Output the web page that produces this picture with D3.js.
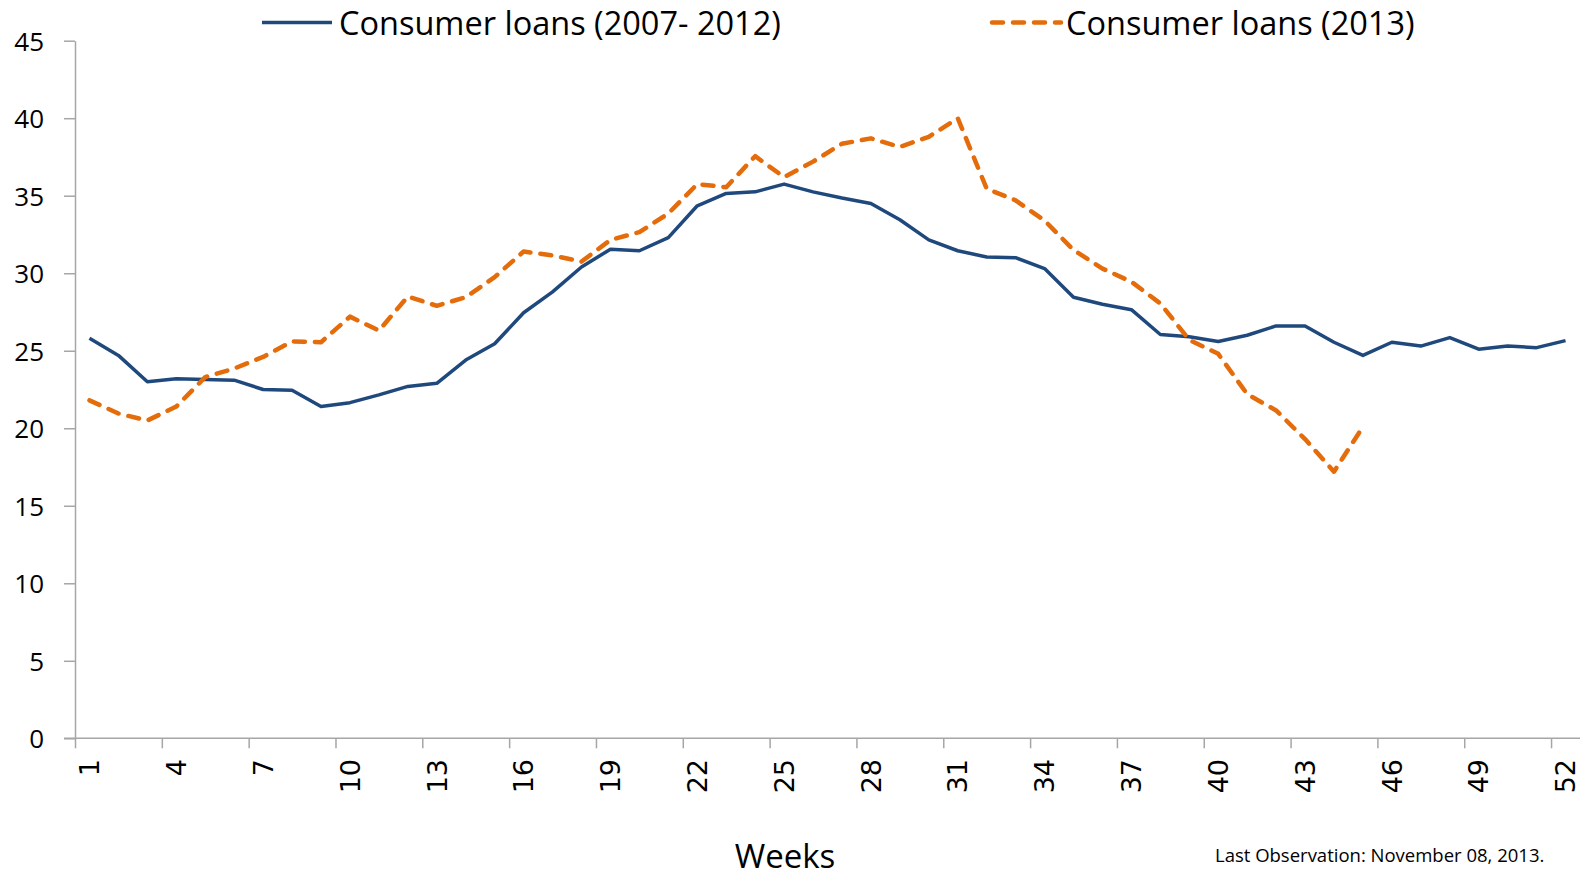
<!DOCTYPE html>
<html>
<head>
<meta charset="utf-8">
<script src="https://cdn.jsdelivr.net/npm/d3@7"></script>
<style>
  html, body { margin: 0; padding: 0; background: #ffffff; }
  svg { display: block; }
</style>
</head>
<body>
<svg id="chart" width="1595" height="878"></svg>
<script>
// Weekly consumer loans: average pattern 2007-2012 vs. 2013
const weeks = d3.range(1, 53);
const labelWeeks = d3.range(1, 53, 3);
const yTicks = d3.range(0, 46, 5);

const avg2007_2012 = [
  25.8, 24.7, 23.0, 23.2, 23.15, 23.1, 22.5, 22.45, 21.4, 21.65,
  22.15, 22.7, 22.9, 24.4, 25.45, 27.45, 28.8, 30.4, 31.55, 31.45,
  32.3, 34.35, 35.15, 35.25, 35.75, 35.25, 34.85, 34.5, 33.45, 32.15,
  31.45, 31.05, 31.0, 30.3, 28.45, 28.0, 27.65, 26.05, 25.9, 25.6,
  26.0, 26.6, 26.6, 25.55, 24.7, 25.55, 25.3, 25.85, 25.1, 25.3,
  25.2, 25.65
];

const loans2013 = [
  21.8, 20.95, 20.5, 21.4, 23.3, 23.85, 24.6, 25.6, 25.55, 27.2,
  26.3, 28.5, 27.9, 28.45, 29.75, 31.4, 31.15, 30.75, 32.15, 32.65,
  33.85, 35.75, 35.55, 37.55, 36.2, 37.2, 38.35, 38.7, 38.15, 38.8,
  40.0, 35.45, 34.7, 33.4, 31.5, 30.3, 29.45, 28.05, 25.7, 24.8,
  22.2, 21.15, 19.3, 17.2, 20.1
];

const seriesNames = ["Consumer loans (2007- 2012)", "Consumer loans (2013)"];
const footnote = "Last Observation: November 08, 2013.";
const xTitle = "Weeks";

const BLUE = "#1F497D";
const ORANGE = "#E46C0A";
const AXIS = "#a6a6a6";
const TEXT_FONT = "'Open Sans', sans-serif";
const TICK_FONT = "'DejaVu Sans', sans-serif";

const svg = d3.select("#chart");
const plot = { left: 75, right: 1580, top: 40.7, bottom: 738.3 };

// category bands for weeks; boundaries on a continuous scale
const xBand = d3.scaleBand().domain(weeks).range([plot.left, plot.right]).padding(0);
const xEdge = d3.scaleLinear().domain([0, 52]).range([plot.left, plot.right]);
const y = d3.scaleLinear().domain([0, 45]).range([plot.bottom, plot.top]);
const xc = w => xBand(w) + xBand.bandwidth() / 2;

// y axis
const yAxis = svg.append("g")
  .attr("transform", `translate(${plot.left},0)`)
  .call(d3.axisLeft(y).tickValues(yTicks).tickSizeInner(11).tickSizeOuter(0).tickPadding(20));
yAxis.selectAll("path, line").attr("stroke", AXIS).attr("stroke-width", 1.5);
yAxis.selectAll("text")
  .attr("font-family", TEXT_FONT).attr("font-size", 26).attr("fill", "#000")
  .attr("dy", "0.36em");

// x axis: tick marks between categories, every third week
const xAxis = svg.append("g")
  .attr("transform", `translate(0,${plot.bottom})`)
  .call(d3.axisBottom(xEdge).tickValues(d3.range(0, 52, 3)).tickSizeInner(10).tickSizeOuter(0).tickFormat(""));
xAxis.select("path").attr("d", `M${plot.left - 11},0H${plot.right}`);
xAxis.selectAll("path, line").attr("stroke", AXIS).attr("stroke-width", 1.5);

// x labels, rotated, centred on their week
svg.append("g").selectAll("text")
  .data(labelWeeks)
  .join("text")
  .attr("transform", d => `translate(${xc(d)},759) rotate(-90)`)
  .attr("text-anchor", "end")
  .attr("dy", "0.36em")
  .attr("font-family", TICK_FONT)
  .attr("font-size", 27)
  .attr("fill", "#000")
  .text(d => d);

// lines
const line = d3.line().x((d, i) => xc(weeks[i])).y(d => y(d));

svg.append("path")
  .datum(avg2007_2012)
  .attr("d", line)
  .attr("fill", "none")
  .attr("stroke", BLUE)
  .attr("stroke-width", 3.5)
  .attr("stroke-linejoin", "round");

svg.append("path")
  .datum(loans2013)
  .attr("d", line)
  .attr("fill", "none")
  .attr("stroke", ORANGE)
  .attr("stroke-width", 4.5)
  .attr("stroke-linecap", "round")
  .attr("stroke-linejoin", "round")
  .attr("stroke-dasharray", "11,10");

// legend
const legend = [
  { name: seriesNames[0], color: BLUE, dash: null, width: 3.5, x0: 262, x1: 332, tx: 339 },
  { name: seriesNames[1], color: ORANGE, dash: "11,10", width: 4.5, x0: 992, x1: 1061, tx: 1066 }
];
const lg = svg.append("g");
legend.forEach(l => {
  lg.append("line")
    .attr("x1", l.x0).attr("x2", l.x1).attr("y1", 22.5).attr("y2", 22.5)
    .attr("stroke", l.color).attr("stroke-width", l.width)
    .attr("stroke-linecap", l.dash ? "round" : "butt")
    .attr("stroke-dasharray", l.dash);
  lg.append("text")
    .attr("x", l.tx).attr("y", 35)
    .attr("font-family", TEXT_FONT).attr("font-size", 32.5).attr("fill", "#000")
    .text(l.name);
});

// axis title and note
svg.append("text")
  .attr("x", 785).attr("y", 868).attr("text-anchor", "middle")
  .attr("font-family", TEXT_FONT).attr("font-size", 33).attr("fill", "#000")
  .text(xTitle);

svg.append("text")
  .attr("x", 1215).attr("y", 862)
  .attr("font-family", TEXT_FONT).attr("font-size", 18.5).attr("fill", "#000")
  .text(footnote);
</script>
</body>
</html>
